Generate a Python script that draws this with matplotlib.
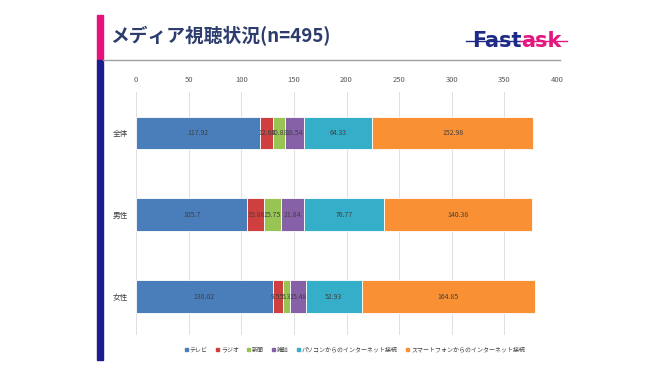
import matplotlib.pyplot as plt
from matplotlib.patches import Rectangle
from matplotlib.lines import Line2D

plt.rcParams['font.family'] = ['Noto Sans CJK JP', 'DejaVu Sans']

groups = ["全体", "男性", "女性"]
media = ["テレビ", "ラジオ", "新聞", "雑誌", "パソコンからのインターネット接続", "スマートフォンからのインターネット接続"]
values = {
    "テレビ": [117.92, 105.7, 130.02],
    "ラジオ": [12.64, 15.86, 9.55],
    "新聞": [10.88, 15.75, 6.3],
    "雑誌": [18.54, 21.84, 15.48],
    "パソコンからのインターネット接続": [64.33, 76.77, 52.93],
    "スマートフォンからのインターネット接続": [152.98, 140.38, 164.85],
}
colors = ["#4a7ebb", "#cf3f3f", "#98c454", "#8661a8", "#35afc9", "#f99134"]

W, H = 670, 377
fig = plt.figure(figsize=(W / 100, H / 100), dpi=100)

# slide decorations
fig.patches.append(Rectangle((97 / W, 1 - 60 / H), 6 / W, 45 / H, transform=fig.transFigure,
                             color="#e8127c", zorder=0))
fig.patches.append(Rectangle((97 / W, 1 - 360 / H), 6 / W, 300 / H, transform=fig.transFigure,
                             color="#1c1c8e", zorder=0))
fig.lines.append(Line2D([103 / W, 560 / W], [1 - 60 / H, 1 - 60 / H], transform=fig.transFigure,
                        color="#a0a0a0", lw=1.0))
fig.text(110 / W, 1 - 36 / H, "メディア視聴状況(n=495)", fontsize=13.5, fontweight="bold",
         color="#2c3c6c", va="center", ha="left")

# logo
fig.lines.append(Line2D([466 / W, 520 / W], [1 - 41 / H, 1 - 41 / H], transform=fig.transFigure,
                        color="#1e2a86", lw=1.0))
fig.lines.append(Line2D([520 / W, 567 / W], [1 - 41 / H, 1 - 41 / H], transform=fig.transFigure,
                        color="#e5167f", lw=1.0))
t1 = fig.text(472 / W, 1 - 41 / H, "Fast", fontsize=15, fontweight="bold",
              color="#1e2a86", va="center", ha="left", family="DejaVu Sans")
fig.canvas.draw()
bb = t1.get_window_extent()
fig.text(bb.x1 / W, 1 - 41 / H, "ask", fontsize=15, fontweight="bold",
         color="#e5167f", va="center", ha="left", family="DejaVu Sans")

# chart
ax = fig.add_axes([136 / W, 1 - 335 / H, (557 - 136) / W, (335 - 92) / H])
left = [0, 0, 0]
for m, c in zip(media, colors):
    vals = values[m]
    ax.barh(groups, vals, left=left, height=0.4, color=c, edgecolor="white", linewidth=0.6, zorder=3)
    for i, v in enumerate(vals):
        ax.text(left[i] + v / 2, i, f"{v:g}", ha="center", va="center", fontsize=5, color="#404040", zorder=4)
    left = [a + b for a, b in zip(left, vals)]

ax.set_xlim(0, 400)
ax.set_ylim(2.47, -0.5)
ax.set_xticks(range(0, 401, 50))
ax.xaxis.tick_top()
ax.tick_params(axis="x", length=0, labelsize=5.5, labelcolor="#595959", pad=6)
ax.tick_params(axis="y", length=0, labelsize=5.5, labelcolor="#404040", pad=6)
ax.grid(axis="x", color="#e0e0e0", lw=0.7, zorder=0)
for s in ax.spines.values():
    s.set_visible(False)

handles = [Rectangle((0, 0), 1, 1, color=c) for c in colors]
fig.legend(handles, media, loc="center", bbox_to_anchor=(355 / W, 1 - 350 / H), ncol=6,
           frameon=False, fontsize=4.3, handlelength=0.5, handleheight=0.5, handletextpad=0.3,
           columnspacing=1.4, labelcolor="#404040")

fig.savefig("out.png", dpi=100)
